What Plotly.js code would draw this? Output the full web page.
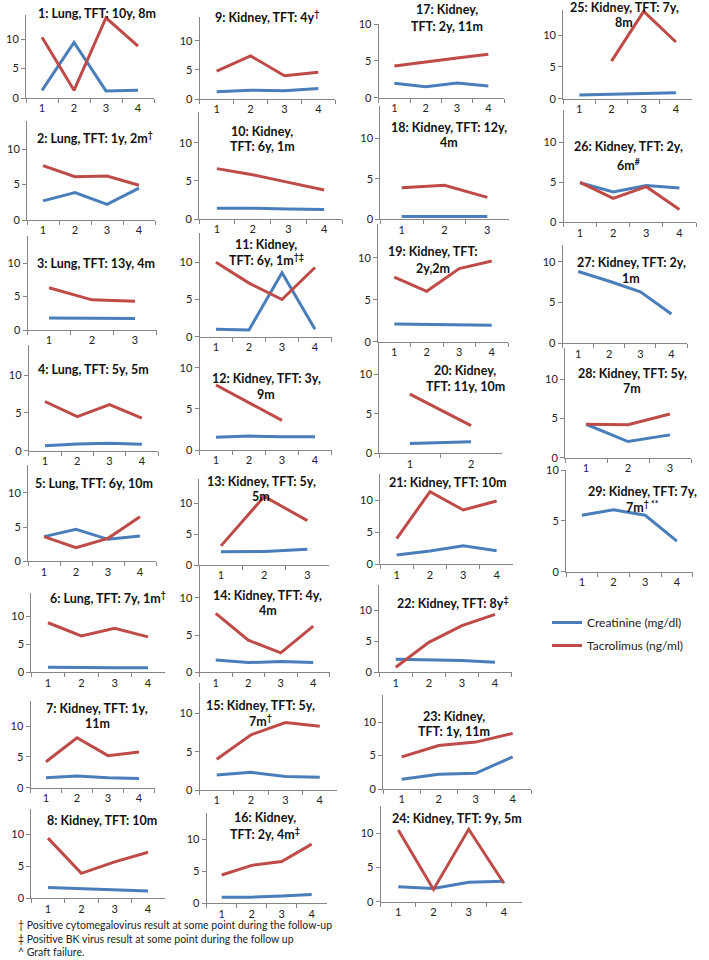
<!DOCTYPE html>
<html><head><meta charset="utf-8">
<script src="https://cdn.plot.ly/plotly-3.0.1.min.js"></script>
<style>html,body{margin:0;padding:0;background:#fff}#chart{width:709px;height:960px}</style>
</head><body><div id="chart"></div>
<script>
// ---------- DATA ----------
const panelTitles = [
  ["1: Lung, TFT: 10y, 8m"],
  ["2: Lung, TFT: 1y, 2m<sup>†</sup>"],
  ["3: Lung, TFT: 13y, 4m"],
  ["4: Lung, TFT: 5y, 5m"],
  ["5: Lung, TFT: 6y, 10m"],
  ["6: Lung, TFT: 7y, 1m<sup>†</sup>"],
  ["7: Kidney, TFT: 1y,", "11m"],
  ["8: Kidney, TFT: 10m"],
  ["9: Kidney, TFT: 4y<sup>†</sup>"],
  ["10: Kidney,", "TFT: 6y, 1m"],
  ["11: Kidney,", "TFT: 6y, 1m<sup>†‡</sup>"],
  ["12: Kidney, TFT: 3y,", "9m"],
  ["13: Kidney, TFT: 5y,", "5m"],
  ["14: Kidney, TFT: 4y,", "4m"],
  ["15: Kidney, TFT: 5y,", "7m<sup>†</sup>"],
  ["16: Kidney,", "TFT: 2y, 4m<sup>‡</sup>"],
  ["17: Kidney,", "TFT: 2y, 11m"],
  ["18: Kidney, TFT: 12y,", "4m"],
  ["19: Kidney, TFT:", "2y,2m"],
  ["20: Kidney,", "TFT: 11y, 10m"],
  ["21: Kidney, TFT: 10m"],
  ["22: Kidney, TFT: 8y<sup>‡</sup>"],
  ["23: Kidney,", "TFT: 1y, 11m"],
  ["24: Kidney, TFT: 9y, 5m"],
  ["25: Kidney, TFT: 7y,", "8m"],
  ["26: Kidney, TFT: 2y,", "6m<sup>#</sup>"],
  ["27: Kidney, TFT: 2y,", "1m"],
  ["28: Kidney, TFT: 5y,", "7m"],
  ["29: Kidney, TFT: 7y,", "7m<sup>† **</sup>"]
];
const visitLabels = ["1", "2", "3", "4"];
const creatinine = [
  [1.3, 9.4, 1.2, 1.3],
  [2.7, 3.85, 2.2, 4.5],
  [1.8, 1.8, 1.7],
  [0.65, 0.9, 1.0, 0.85],
  [3.6, 4.65, 3.2, 3.7],
  [0.9, 0.8, 0.8, 0.8],
  [1.6, 1.9, 1.6, 1.5],
  [1.7, 1.5, 1.25, 1.15],
  [1.25, 1.5, 1.4, 1.8],
  [1.4, 1.4, 1.3, 1.25],
  [1.0, 0.9, 8.6, 1.0],
  [1.55, 1.7, 1.6, 1.6],
  [2.15, 2.2, 2.55],
  [1.65, 1.3, 1.45, 1.3],
  [1.95, 2.3, 1.75, 1.65],
  [0.95, 0.95, 1.15, 1.35],
  [1.95, 1.5, 2.0, 1.6],
  [0.35, 0.35, 0.35],
  [2.1, 2.05, 2.0, 1.95],
  [1.25, 1.45],
  [1.45, 2.07, 2.9, 2.1],
  [2.1, 2.0, 1.9, 1.6],
  [1.45, 2.2, 2.35, 4.8],
  [2.2, 1.95, 2.85, 3.0],
  [0.6, 0.75, 0.85, 0.95],
  [4.95, 3.8, 4.6, 4.3],
  [8.8, 7.6, 6.3, 3.6],
  [4.25, 2.05, 2.9],
  [5.55, 6.1, 5.55, 3.0]
];
const tacrolimus = [
  [10.3, 1.3, 13.6, 8.8],
  [7.65, 6.1, 6.2, 4.9],
  [6.3, 4.5, 4.3],
  [6.5, 4.5, 6.1, 4.3],
  [3.6, 2.0, 3.35, 6.5],
  [8.8, 6.45, 7.8, 6.3],
  [4.2, 8.1, 5.2, 5.8],
  [9.4, 3.9, 5.7, 7.2],
  [4.8, 7.4, 4.0, 4.6],
  [6.6, 5.8, 4.8, 3.8],
  [10.0, 7.2, 5.0, 9.3],
  [7.9, 5.75, 3.6, null],
  [3.1, 11.1, 7.2],
  [7.9, 4.3, 2.6, 6.2],
  [4.0, 7.2, 8.8, 8.3],
  [4.4, 5.9, 6.5, 9.2],
  [4.3, 4.9, 5.4, 5.9],
  [3.9, 4.2, 2.7],
  [7.7, 6.0, 8.7, 9.6],
  [7.5, 3.5],
  [4.0, 11.3, 8.45, 9.85],
  [0.8, 4.8, 7.5, 9.3],
  [4.8, 6.5, 7.0, 8.3],
  [10.5, 1.8, 10.6, 2.7],
  [null, 5.9, 13.7, 8.9],
  [5.0, 3.0, 4.45, 1.6],
  [null, null, null, null],
  [4.25, 4.2, 5.55],
  [null, null, null, null]
];
const seriesNames = ["Creatinine (mg/dl)", "Tacrolimus (ng/ml)"];
const yTickValues = [0, 5, 10];
const footnoteMarks = ["†", "‡", "^"];
const footnotes = [
  "Positive cytomegalovirus result at some point during the follow-up",
  "Positive BK virus result at some point during the follow up",
  "Graft failure."
];

// ---------- LAYOUT GEOMETRY (pixels) ----------
// [x0, x1, yZero, pxPerUnit, yMax, titleX, titleY1, titleY2]
const geom = [
  [26, 154, 98, 5.9, 14, 97, 13],
  [27, 155, 220, 7.1, 14, 95, 137],
  [27.5, 156.5, 330, 6.7, 14, 96, 263],
  [28.8, 158, 450.7, 7.57, 14, 94, 369],
  [28, 156, 561.3, 6.86, 14, 94, 483],
  [31.3, 164.7, 672.3, 5.63, 14, 108, 597],
  [30.5, 154.5, 787.7, 6.17, 14, 97, 708, 723],
  [31.3, 164.7, 898.3, 6.4, 14, 102, 820],
  [199.7, 335.3, 99, 5.83, 14, 267, 16],
  [199, 342, 219, 7.63, 14, 262, 132, 147],
  [199.5, 331.5, 336.7, 7.44, 14, 266, 244, 260],
  [199.5, 331.5, 450, 8.23, 14, 266, 378, 394],
  [199.4, 329, 565, 6.17, 14, 261, 481, 496],
  [199.5, 329.5, 672.3, 7.46, 14, 267.5, 595, 610],
  [199.5, 337, 790, 7.67, 14, 260, 705, 720],
  [206.7, 326.7, 903.3, 6.43, 14, 265, 817, 833],
  [378.7, 504, 97.7, 7.37, 10, 447, 10, 27],
  [380.3, 508.7, 219.3, 8.1, 14, 449, 128, 143],
  [378, 508, 341.7, 8.4, 14, 433, 252, 268],
  [379.3, 501.7, 453.3, 7.9, 14, 465, 370, 386],
  [380, 513.3, 564.3, 6.43, 14, 448, 482],
  [379.2, 511.6, 672.3, 6.23, 14, 452, 602],
  [383.2, 531.2, 789, 6.7, 14, 454, 716, 731],
  [380.7, 521.5, 901.7, 6.83, 14, 457, 818],
  [563.2, 692, 98.7, 6.37, 14, 624, 7, 23],
  [563.5, 696, 222.3, 8.0, 14, 628, 147, 164],
  [562.7, 687, 343.3, 8.16, 12, 631, 262, 278],
  [565, 691, 457.7, 7.87, 14, 632, 373, 388],
  [566, 692.7, 571.7, 10.17, 10, 642, 492, 507]
];

const W = 709, H = 960;
const BLUE = '#4A7EBB', RED = '#BE4B48';
const AXC = '#868686';
const FONT = 'Lato, "Open Sans", sans-serif';

const traces = [];
const layout = {
  width: W, height: H,
  margin: {l: 0, r: 0, t: 0, b: 0},
  paper_bgcolor: '#fff', plot_bgcolor: 'rgba(0,0,0,0)',
  font: {family: FONT, size: 11, color: '#222'},
  showlegend: true,
  legend: {
    x: 547 / W, y: 1 - 608 / H, xanchor: 'left', yanchor: 'top',
    font: {family: FONT, size: 12, color: '#222'},
    bgcolor: 'rgba(0,0,0,0)', tracegroupgap: 4
  },
  annotations: []
};

panelTitles.forEach((titleLines, i) => {
  const g = geom[i];
  const [x0, x1, yZero, ppu, yMax, tx, ty1, ty2] = g;
  const n = creatinine[i].length;
  const cats = visitLabels.slice(0, n);
  const sfx = i === 0 ? '' : String(i + 1);
  const xa = 'x' + sfx, ya = 'y' + sfx;
  const yTop = yZero - yMax * ppu;

  layout['xaxis' + sfx] = {
    domain: [x0 / W, x1 / W],
    anchor: ya, type: 'category', categoryarray: cats,
    range: [-0.5, n - 0.5],
    showline: true, linecolor: AXC, linewidth: 1,
    ticks: 'outside', tickson: 'boundaries', ticklen: 4, tickcolor: AXC,
    showgrid: false, zeroline: false, fixedrange: true,
    tickfont: {family: FONT, size: 11, color: '#222'}
  };
  layout['yaxis' + sfx] = {
    domain: [1 - yZero / H, 1 - yTop / H],
    anchor: xa, range: [0, yMax],
    tickvals: yTickValues,
    showline: true, linecolor: AXC, linewidth: 1,
    ticks: 'outside', ticklen: 4, tickcolor: AXC,
    showgrid: false, zeroline: false, fixedrange: true,
    tickfont: {family: FONT, size: 11, color: '#222'}
  };

  traces.push({
    type: 'scatter', mode: 'lines', x: cats, y: creatinine[i],
    xaxis: xa, yaxis: ya, name: seriesNames[0], legendgroup: 'c',
    showlegend: i === 0, line: {color: BLUE, width: 3}, connectgaps: false,
    hoverinfo: 'skip'
  });
  traces.push({
    type: 'scatter', mode: 'lines', x: cats, y: tacrolimus[i],
    xaxis: xa, yaxis: ya, name: seriesNames[1], legendgroup: 't',
    showlegend: i === 0, line: {color: RED, width: 3}, connectgaps: false,
    hoverinfo: 'skip'
  });

  const ys = [ty1, ty2];
  titleLines.forEach((line, j) => {
    layout.annotations.push({
      xref: 'paper', yref: 'paper', x: tx / W, y: 1 - ys[j] / H,
      xanchor: 'center', yanchor: 'middle', showarrow: false,
      text: '<b>' + line + '</b>',
      font: {family: FONT, size: 12.5, color: '#111'}
    });
  });
});

layout.annotations.push({
  xref: 'paper', yref: 'paper', x: 16 / W, y: 1 - 938 / H,
  xanchor: 'left', yanchor: 'middle', align: 'left', showarrow: false,
  text: footnotes.map((t, j) => footnoteMarks[j] + ' ' + t).join('<br>'),
  font: {family: FONT, size: 10.5, color: '#222'}
});

Plotly.newPlot('chart', traces, layout, {staticPlot: true, displayModeBar: false});
</script>
</body></html>
